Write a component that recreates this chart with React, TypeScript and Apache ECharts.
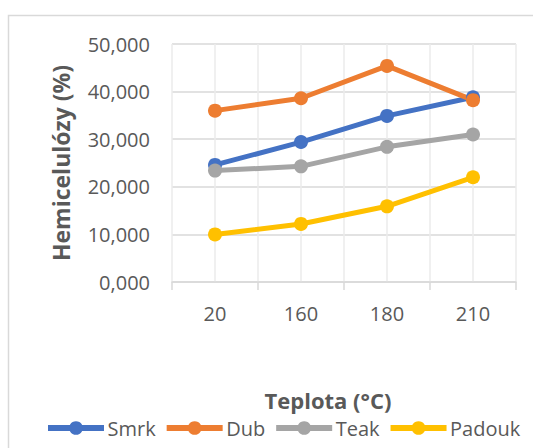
import React, { useEffect, useRef } from "react";
import * as echarts from "echarts";

const categories = ["20", "160", "180", "210"];
const halfSlots = ["a", "b", "c", "d", "e", "f", "g", "h"];
const seriesNames = ["Smrk", "Dub", "Teak", "Padouk"];
const smrk = [24.6, 29.4, 34.9, 38.8];
const dub = [36.0, 38.6, 45.4, 38.2];
const teak = [23.4, 24.3, 28.4, 31.0];
const padouk = [10.0, 12.2, 15.9, 22.0];
const colors = ["#4472C4", "#ED7D31", "#A5A5A5", "#FFC000"];
const yTicks = { min: 0, max: 50, interval: 10 };

const FONT = "Open Sans";
const TEXT = "#595959";

export default function App() {
  const ref = useRef<HTMLDivElement>(null);
  useEffect(() => {
    if (!ref.current) return;
    const chart = echarts.init(ref.current, undefined, { renderer: "svg" });
    const values = [smrk, dub, teak, padouk];
    chart.setOption({
      animation: false,
      backgroundColor: "#ffffff",
      textStyle: { fontFamily: FONT },
      graphic: [
        {
          type: "rect",
          shape: { x: 8.5, y: 15.5, width: 700, height: 600 },
          style: { fill: "none", stroke: "#D9D9D9", lineWidth: 1.5 },
          silent: true,
        },
      ],
      grid: { left: 172, right: 17, top: 44, bottom: 166, containLabel: false },
      legend: {
        data: seriesNames,
        left: 45,
        top: 418,
        padding: 0,
        itemWidth: 56,
        itemHeight: 17,
        itemGap: 8,
        lineStyle: { width: 6 },
        textStyle: { color: TEXT, fontSize: 20, fontFamily: FONT, padding: [0, 0, 0, -1.5] },
      },
      xAxis: [
        {
          type: "category",
          data: categories,
          boundaryGap: true,
          name: "Teplota (°C)",
          nameLocation: "middle",
          nameGap: 107,
          nameTextStyle: {
            color: TEXT,
            fontSize: 22,
            fontWeight: "bold",
            fontFamily: FONT,
            padding: [0, 32, 0, 0],
          },
          axisLine: { show: true, lineStyle: { color: "#D9D9D9", width: 1.5 } },
          axisTick: { show: true, length: 8, lineStyle: { color: "#D9D9D9", width: 1.5 } },
          axisLabel: { color: TEXT, fontSize: 20, margin: 21, fontFamily: FONT },
          splitLine: { show: false },
        },
        {
          type: "category",
          data: halfSlots,
          boundaryGap: true,
          position: "bottom",
          show: true,
          axisLine: { show: false },
          axisTick: { show: false },
          axisLabel: { show: false },
          splitLine: { show: true, lineStyle: { color: "#EBEBEB", width: 1.5 } },
        },
      ],
      yAxis: {
        type: "value",
        min: yTicks.min,
        max: yTicks.max,
        interval: yTicks.interval,
        name: "Hemicelulózy (%)",
        nameLocation: "middle",
        nameGap: 100,
        nameTextStyle: { color: TEXT, fontSize: 23, fontWeight: "bold", fontFamily: FONT },
        axisLine: { show: false },
        axisTick: { show: false },
        axisLabel: {
          color: TEXT,
          fontSize: 20,
          margin: 22,
          fontFamily: FONT,
          formatter: (v: number) => v.toFixed(3).replace(".", ","),
        },
        splitLine: { show: true, lineStyle: { color: "#D9D9D9", width: 1.5 } },
      },
      series: seriesNames.map((name, i) => ({
        name,
        type: "line",
        xAxisIndex: 0,
        data: values[i],
        symbol: "circle",
        symbolSize: 14,
        color: colors[i],
        lineStyle: { width: 5, color: colors[i] },
        itemStyle: { color: colors[i] },
      })),
    });
    return () => chart.dispose();
  }, []);
  return (
    <div
      ref={ref}
      style={{ position: "fixed", left: 0, top: 0, width: 533, height: 448 }}
    />
  );
}
